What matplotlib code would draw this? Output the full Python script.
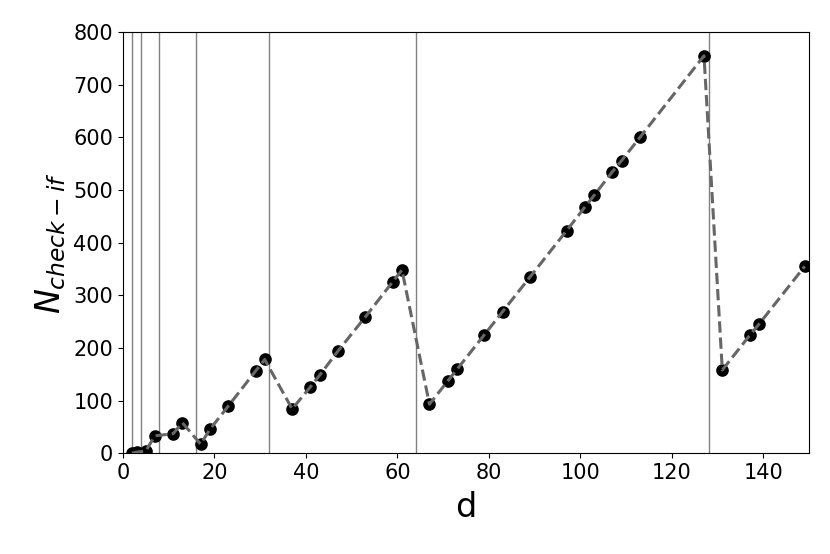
import matplotlib
matplotlib.use("Agg")
import matplotlib.pyplot as plt
import numpy as np

d = [2, 3, 5, 7, 11, 13, 17, 19, 23, 29, 31, 37, 41, 43, 47, 53, 59, 61,
     67, 71, 73, 79, 83, 89, 97, 101, 103, 107, 109, 113, 127, 131, 137, 139, 149]
n_check_if = [0, 2, 4, 33, 37, 58, 17, 45, 89, 156, 178, 84, 126, 148, 194, 259, 326, 348,
              93, 137, 159, 225, 269, 335, 423, 468, 490, 535, 556, 600, 755, 158, 224, 245, 355]
powers = [2, 4, 8, 16, 32, 64, 128]

fig, ax = plt.subplots(figsize=(8.3, 5.54), dpi=100)
fig.subplots_adjust(left=0.148, right=0.975, top=0.942, bottom=0.182)

for p in powers:
    ax.axvline(p, color="gray", linewidth=1, zorder=1)

ax.scatter(d, n_check_if, color="black", s=65, zorder=2)
ax.plot(d, n_check_if, linestyle="--", color="#666666", linewidth=2.2, zorder=3)

ax.set_xlim(0, 150)
ax.set_ylim(0, 800)
ax.tick_params(axis="both", labelsize=15)
ax.set_xlabel("d", fontsize=24, labelpad=6)
ax.set_ylabel(r"$N_{check-if}$", fontsize=24)

fig.savefig("out.png", dpi=100)
